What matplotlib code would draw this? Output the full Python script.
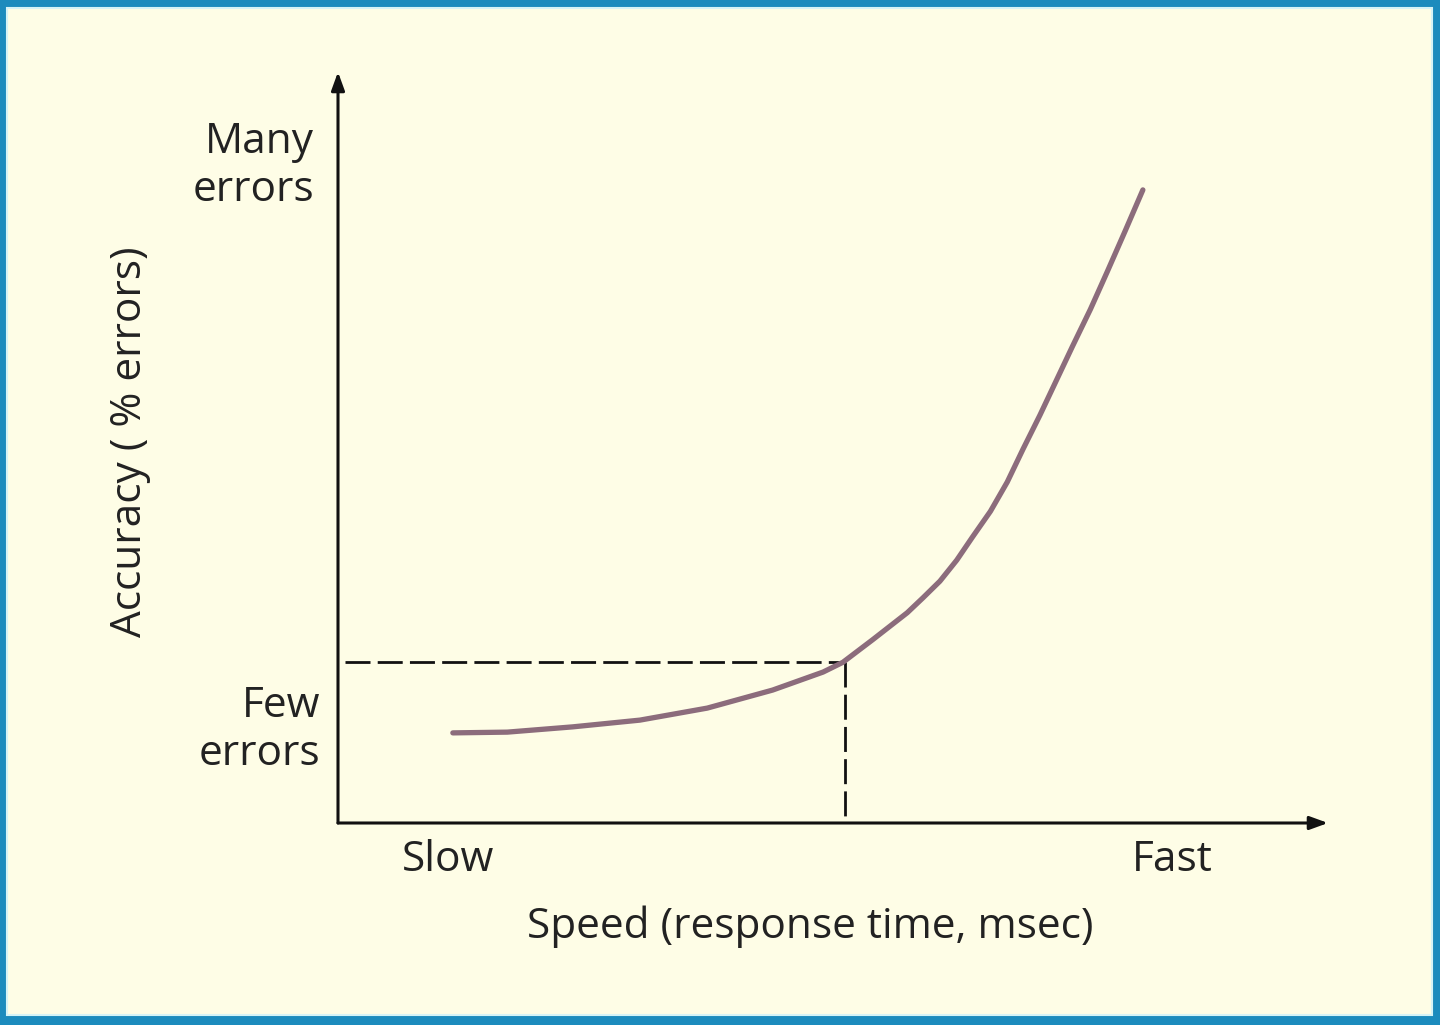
import matplotlib
matplotlib.use("Agg")
import matplotlib.pyplot as plt
from matplotlib.patches import Rectangle
import numpy as np

# Data (arbitrary units)
speed = [1.16, 1.71, 2.37, 3.05, 3.73, 4.39, 4.90, 5.10, 5.40, 5.75, 5.91,
         6.08, 6.25, 6.41, 6.59, 6.76, 6.92, 7.09, 7.42, 7.60, 7.77, 7.95, 8.13]
errors = [1.20, 1.21, 1.28, 1.37, 1.53, 1.77, 2.01, 2.14, 2.44, 2.80, 3.00,
          3.22, 3.50, 3.81, 4.15, 4.54, 4.98, 5.43, 6.35, 6.84, 7.34, 7.88, 8.43]
ref_speed = 5.12
ref_error = 2.14
y_labels = ["Many\nerrors", "Few\nerrors"]
x_labels = ["Slow", "Fast"]
x_title = "Speed (response time, msec)"
y_title = "Accuracy ( % errors)"

W, H = 1440, 1025
fig = plt.figure(figsize=(W / 100, H / 100), dpi=100)
fig.patch.set_facecolor("#1c8bbd")
bg = Rectangle((7 / W, 10 / H), (W - 15) / W, (H - 18) / H,
               transform=fig.transFigure, facecolor="#fefde6",
               edgecolor="#d6f3f6", linewidth=1.5, zorder=-10)
fig.patches.append(bg)

def fx(px):
    return px / W

def fy(py):
    return 1 - py / H

x0, x1, y0, y1 = 338, 1328, 823, 72
ax = fig.add_axes([fx(x0), fy(y0), (x1 - x0) / W, (y0 - y1) / H], zorder=5)
ax.set_xlim(0, 10)
ax.set_ylim(0, 10)
ax.patch.set_alpha(0)
for s in ax.spines.values():
    s.set_visible(False)
ax.set_xticks([])
ax.set_yticks([])

arrow = dict(arrowstyle="-|>,head_length=1.1,head_width=0.4", color="#111111",
             lw=2.2, shrinkA=0, shrinkB=0)
ax.annotate("", xy=(0, 1), xytext=(0, 0), xycoords="axes fraction",
            textcoords="axes fraction", arrowprops=arrow, annotation_clip=False)
ax.annotate("", xy=(1, 0), xytext=(0, 0), xycoords="axes fraction",
            textcoords="axes fraction", arrowprops=arrow, annotation_clip=False)

ax.plot(speed, errors, color="#8c6c7c", lw=3.8, solid_capstyle="round",
        solid_joinstyle="round", zorder=3)
ax.plot([0.07, ref_speed], [ref_error, ref_error], color="#111111", lw=2.0,
        dashes=(9, 2.6), zorder=2)
ax.plot([ref_speed, ref_speed], [ref_error, 0], color="#111111", lw=2.0,
        dashes=(9, 2.6), zorder=2)

font = "Open Sans"
tc = "#222222"
fs = 30.5
fig.text(fx(314), fy(166), y_labels[0], ha="right", va="center", fontsize=fs,
         family=font, color=tc, linespacing=1.2)
fig.text(fx(320), fy(730), y_labels[1], ha="right", va="center", fontsize=fs,
         family=font, color=tc, linespacing=1.2)
fig.text(fx(448), fy(860), x_labels[0], ha="center", va="center", fontsize=fs,
         family=font, color=tc)
fig.text(fx(1172), fy(860), x_labels[1], ha="center", va="center", fontsize=fs,
         family=font, color=tc)
fig.text(fx(810), fy(927), x_title, ha="center", va="center", fontsize=fs,
         family=font, color=tc)
fig.text(fx(130), fy(442), y_title, ha="center", va="center", fontsize=fs,
         family=font, color=tc, rotation=90)

fig.savefig("out.png", dpi=100, facecolor=fig.get_facecolor())
